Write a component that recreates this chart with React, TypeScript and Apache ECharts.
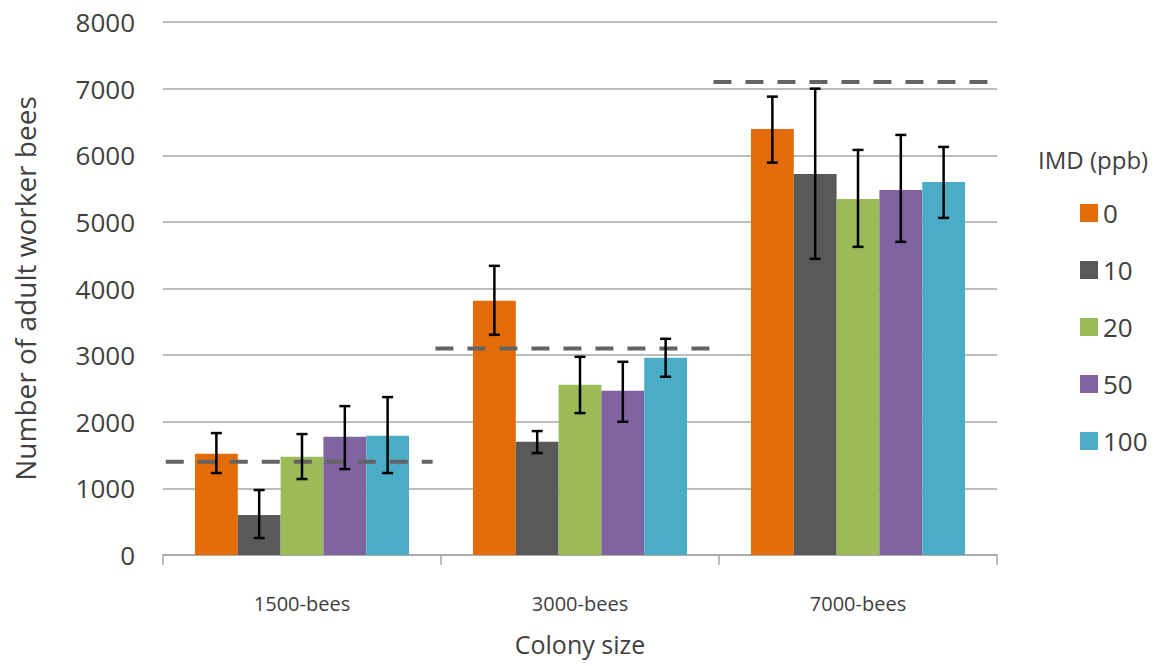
import React, { useEffect, useRef } from "react";
import * as echarts from "echarts";

const categories = ["1500-bees", "3000-bees", "7000-bees"];
const seriesNames = ["0", "10", "20", "50", "100"];
const colors = ["#E36C09", "#595959", "#9BBB59", "#8064A2", "#4BACC6"];

const values0 = [1520, 3815, 6395];
const values10 = [600, 1700, 5720];
const values20 = [1475, 2555, 5345];
const values50 = [1775, 2465, 5480];
const values100 = [1790, 2960, 5600];
const allValues = [values0, values10, values20, values50, values100];

const errLow0 = [1230, 3305, 5890];
const errHigh0 = [1830, 4340, 6880];
const errLow10 = [255, 1530, 4445];
const errHigh10 = [975, 1860, 7000];
const errLow20 = [1140, 2130, 4625];
const errHigh20 = [1815, 2975, 6080];
const errLow50 = [1290, 2000, 4700];
const errHigh50 = [2235, 2900, 6305];
const errLow100 = [1230, 2675, 5060];
const errHigh100 = [2370, 3245, 6125];
const allLow = [errLow0, errLow10, errLow20, errLow50, errLow100];
const allHigh = [errHigh0, errHigh10, errHigh20, errHigh50, errHigh100];

const initialSizes = [1400, 3100, 7100];

const yTicks = [0, 1000, 2000, 3000, 4000, 5000, 6000, 7000, 8000];

const BAR_FRAC = 0.154;
const TEXT = "#404040";
const FONT = "'Open Sans', sans-serif";

export default function App() {
  const ref = useRef<HTMLDivElement>(null);
  useEffect(() => {
    if (!ref.current) return;
    const chart = echarts.init(ref.current, null, { renderer: "svg" });

    const barSeries = allValues.map((vals, i) => ({
      type: "bar",
      name: seriesNames[i],
      data: vals,
      barWidth: BAR_FRAC * 100 + "%",
      barGap: "0%",
      itemStyle: { color: colors[i] },
      z: 2,
    }));

    const errSeries = allValues.map((vals, i) => ({
      type: "custom",
      name: "err" + i,
      data: vals.map((_, c) => [c, allLow[i][c], allHigh[i][c]]),
      encode: { x: 0, y: [1, 2] },
      z: 5,
      silent: true,
      renderItem: (params: any, api: any) => {
        const cat = api.value(0);
        const lo = api.value(1);
        const hi = api.value(2);
        const catW = api.size([1, 0])[0];
        const barW = catW * BAR_FRAC;
        const center = api.coord([cat, 0])[0];
        const x = center + (i - 2) * barW;
        const yLo = api.coord([cat, lo])[1];
        const yHi = api.coord([cat, hi])[1];
        const cap = 5.5;
        const style = { stroke: "#000", lineWidth: 2.5 };
        return {
          type: "group",
          children: [
            { type: "line", shape: { x1: x, y1: yLo, x2: x, y2: yHi }, style },
            { type: "line", shape: { x1: x - cap, y1: yHi, x2: x + cap, y2: yHi }, style },
            { type: "line", shape: { x1: x - cap, y1: yLo, x2: x + cap, y2: yLo }, style },
          ],
        };
      },
    }));

    const dashSeries = {
      type: "custom",
      name: "initial",
      data: initialSizes.map((v, c) => [c, v]),
      encode: { x: 0, y: 1 },
      z: 4,
      silent: true,
      renderItem: (params: any, api: any) => {
        const cat = api.value(0);
        const v = api.value(1);
        const catW = api.size([1, 0])[0];
        const [cx, cy] = api.coord([cat, v]);
        const startOff = cat === 0 ? 0.49 : 0.52;
        return {
          type: "line",
          shape: { x1: cx - catW * startOff, y1: cy, x2: cx + catW * 0.47, y2: cy },
          style: { stroke: "#636363", lineWidth: 4, lineDash: [18, 14] },
        };
      },
    };

    chart.setOption({
      animation: false,
      backgroundColor: "#ffffff",
      textStyle: { fontFamily: FONT },
      title: {
        text: "IMD (ppb)",
        left: 1033,
        top: 142,
        textStyle: { fontSize: 24, fontWeight: "normal", color: TEXT, fontFamily: FONT },
      },
      legend: {
        data: seriesNames,
        orient: "vertical",
        left: 1075,
        top: 195,
        itemWidth: 18,
        itemHeight: 18,
        itemGap: 31,
        icon: "rect",
        textStyle: { fontSize: 26, lineHeight: 26, color: TEXT, fontFamily: FONT },
      },
      grid: { left: 163, right: 162, top: 22, bottom: 111, containLabel: false },
      xAxis: {
        type: "category",
        data: categories,
        name: "Colony size",
        nameLocation: "middle",
        nameGap: 76,
        nameTextStyle: { fontSize: 25, color: TEXT, fontFamily: FONT },
        axisLine: { lineStyle: { color: "#a6a6a6", width: 1.5 } },
        axisTick: { show: true, length: 10, lineStyle: { color: "#a6a6a6", width: 1.5 } },
        axisLabel: { fontSize: 20, color: TEXT, margin: 38, fontFamily: FONT },
      },
      yAxis: {
        type: "value",
        min: yTicks[0],
        max: yTicks[yTicks.length - 1],
        interval: 1000,
        name: "Number of adult worker bees",
        nameLocation: "middle",
        nameGap: 124,
        nameRotate: 90,
        nameTextStyle: { fontSize: 28, color: TEXT, fontFamily: FONT },
        axisLine: { show: false },
        axisTick: { show: false },
        axisLabel: {
          fontSize: 26,
          color: TEXT,
          margin: 28,
          fontFamily: FONT,
          formatter: (v: number) => String(v),
        },
        splitLine: { lineStyle: { color: "#a6a6a6", width: 1.5 } },
      },
      series: [...barSeries, dashSeries, ...errSeries],
    });
    return () => chart.dispose();
  }, []);
  return (
    <div
      ref={ref}
      style={{ position: "fixed", left: 0, top: 0, width: 1159, height: 666 }}
    />
  );
}
